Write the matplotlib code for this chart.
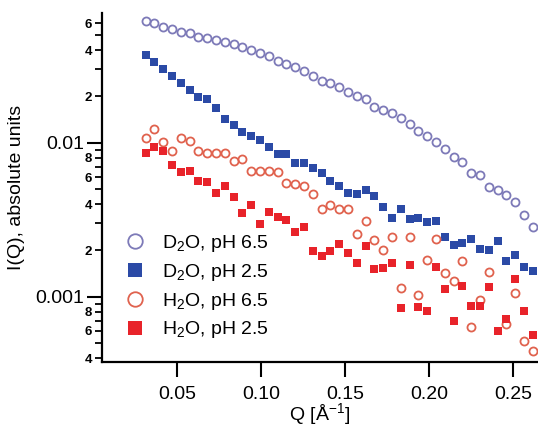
import numpy as np
import matplotlib
matplotlib.use("Agg")
import matplotlib.pyplot as plt
from matplotlib.ticker import LogLocator, FixedLocator, FuncFormatter

plt.rcParams["font.family"] = ["Liberation Sans", "DejaVu Sans"]
plt.rcParams["mathtext.fontset"] = "custom"
plt.rcParams["mathtext.rm"] = "Liberation Sans"
plt.rcParams["mathtext.it"] = "Liberation Sans:italic"

# scattering vector, 1/Angstrom
q = [0.0314, 0.0366, 0.0419, 0.0471, 0.0524, 0.0576, 0.0628, 0.0681, 0.0733,
     0.0785, 0.0838, 0.0890, 0.0943, 0.0995, 0.1047, 0.1100, 0.1152, 0.1204,
     0.1257, 0.1309, 0.1362, 0.1414, 0.1466, 0.1519, 0.1571, 0.1624, 0.1676,
     0.1728, 0.1781, 0.1833, 0.1885, 0.1938, 0.1990, 0.2043, 0.2095, 0.2147,
     0.2200, 0.2252, 0.2304, 0.2357, 0.2409, 0.2462, 0.2514, 0.2566, 0.2619]

d2o_ph65 = [0.0620, 0.0604, 0.0569, 0.0547, 0.0528, 0.0520, 0.0490, 0.0483, 0.0467,
            0.0453, 0.0438, 0.0418, 0.0398, 0.0382, 0.0365, 0.0341, 0.0324, 0.0313,
            0.0294, 0.0272, 0.0254, 0.0244, 0.0232, 0.0215, 0.0200, 0.0192, 0.0172,
            0.0164, 0.0156, 0.0146, 0.0133, 0.0120, 0.0110, 0.0102, 0.00914, 0.00815,
            0.00749, 0.00641, 0.00620, 0.00513, 0.00495, 0.00459, 0.00412, 0.00341, 0.00286]

d2o_ph25 = [0.0373, 0.0334, 0.0301, 0.0270, 0.0246, 0.0219, 0.0199, 0.0193, 0.0168,
            0.0143, 0.0131, 0.0117, 0.0111, 0.0104, 0.00946, 0.00848, 0.00848, 0.00738,
            0.00745, 0.00691, 0.00636, 0.00567, 0.00526, 0.00471, 0.00467, 0.00495, 0.00450,
            0.00381, 0.00326, 0.00371, 0.00320, 0.00324, 0.00308, 0.00313, 0.00243, 0.00218,
            0.00223, 0.00239, 0.00204, 0.00200, 0.00229, 0.00171, 0.00188, 0.00157, 0.00148]

h2o_ph65 = [0.01082, 0.01227, 0.01007, 0.00891, 0.01078, 0.01035, 0.00888, 0.00855, 0.00861,
            0.00861, 0.00764, 0.00784, 0.00661, 0.00655, 0.00653, 0.00651, 0.00552, 0.00540,
            0.00522, 0.00462, 0.00374, 0.00396, 0.00374, 0.00374, 0.00257, 0.00313, 0.00235,
            0.00200, 0.00244, 0.00114, 0.00246, 0.00103, 0.00174, 0.00239, 0.00143, 0.00126,
            0.00171, 0.000634, 0.000960, 0.00144, np.nan, 0.000671, 0.00106, 0.000513, 0.000446]

h2o_ph25 = [0.00865, 0.00946, 0.00891, 0.00714, 0.00651, 0.00661, 0.00569, 0.00554, 0.00469,
            0.00526, 0.00444, 0.00350, 0.00396, 0.00297, 0.00358, 0.00332, 0.00316, 0.00265,
            0.00286, 0.00197, 0.00183, 0.00197, 0.00221, 0.00192, 0.00166, 0.00215, 0.00151,
            0.00154, 0.00166, 0.000845, 0.00160, 0.000865, 0.000803, 0.00157, 0.00113, 0.000698,
            0.00117, 0.000874, 0.000874, 0.00115, 0.000602, 0.000717, 0.00130, 0.000803, 0.000561]

labels = ["D$_2$O, pH 6.5", "D$_2$O, pH 2.5", "H$_2$O, pH 6.5", "H$_2$O, pH 2.5"]

fig = plt.figure(figsize=(5.38, 4.30), dpi=100)
ax = fig.add_axes([0.1896, 0.158, 0.8104, 0.812])

ax.plot(q, d2o_ph65, "o", ms=5.8, mfc="none", mec="#7d7ab8", mew=1.3, ls="none", label=labels[0])
ax.plot(q, d2o_ph25, "s", ms=5.4, color="#2b4aa6", mew=0, ls="none", label=labels[1])
ax.plot(q, h2o_ph65, "o", ms=5.8, mfc="none", mec="#e0624e", mew=1.3, ls="none", label=labels[2])
ax.plot(q, h2o_ph25, "s", ms=5.4, color="#e8232a", mew=0, ls="none", label=labels[3])

ax.set_yscale("log")
ax.set_xlim(0.0054, 0.265)
ax.set_ylim(3.77e-4, 0.0698)

for side in ["top", "right"]:
    ax.spines[side].set_visible(False)
for side in ["left", "bottom"]:
    ax.spines[side].set_linewidth(1.6)

ax.xaxis.set_major_locator(FixedLocator([0.05, 0.10, 0.15, 0.20, 0.25]))
ax.xaxis.set_major_formatter(FuncFormatter(lambda v, p: f"{v:.2f}"))
ax.tick_params(axis="x", which="major", direction="out", length=11, width=1.5,
               labelsize=14, pad=6)

ax.yaxis.set_major_locator(LogLocator(base=10, numticks=10))
ax.yaxis.set_major_formatter(FuncFormatter(lambda v, p: f"{v:g}"))
ax.yaxis.set_minor_locator(LogLocator(base=10, subs=np.arange(2, 10), numticks=20))


def minor_label(v, pos):
    m = int(round(v / 10 ** np.floor(np.log10(v) + 1e-9)))
    return str(m) if m in (2, 4, 6, 8) else ""


ax.yaxis.set_minor_formatter(FuncFormatter(minor_label))
ax.tick_params(axis="y", which="major", direction="out", length=11, width=1.5,
               labelsize=14, pad=2)
ax.tick_params(axis="y", which="minor", direction="out", length=5, width=1.3,
               labelsize=9.5, pad=2)
for t in ax.yaxis.get_minorticklabels():
    t.set_fontweight("bold")

ax.set_xlabel("Q [Å$^{-1}$]", fontsize=14, labelpad=-1)
ax.set_ylabel("I(Q), absolute units", fontsize=14, labelpad=7)

leg = ax.legend(loc="lower left", bbox_to_anchor=(0.035, 0.04), frameon=False,
                fontsize=14, markerscale=1.8, handletextpad=0.9, labelspacing=0.4,
                borderaxespad=0, handlelength=1.0)

fig.savefig("out.png", dpi=100)
